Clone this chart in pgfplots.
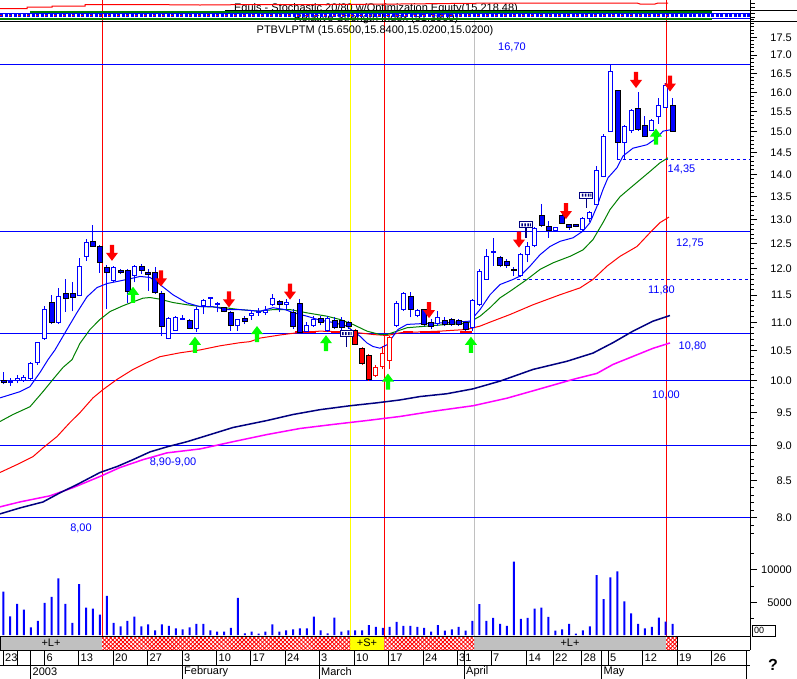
\documentclass[border=0pt]{standalone}
\usepackage{pgfplots}
\pgfplotsset{compat=1.18}
\usepackage{pgfplotstable}
\usepackage{fontspec}
\setmainfont{Liberation Sans}
\usetikzlibrary{patterns.meta}

\definecolor{cblue}{RGB}{0,0,255}
\definecolor{cgreen}{RGB}{0,128,0}
\definecolor{cred}{RGB}{255,0,0}
\definecolor{cnavy}{RGB}{0,0,128}
\definecolor{cmag}{RGB}{255,0,255}
\definecolor{clime}{RGB}{0,255,0}
\definecolor{cyel}{RGB}{255,255,0}
\definecolor{cgray}{RGB}{192,192,192}

% empty mark, candles are drawn in the scatter code
\pgfdeclareplotmark{void}{}
\pgfdeclareplotmark{dnarrow}{%
  \pgfpathmoveto{\pgfqpoint{-2.2pt}{8pt}}%
  \pgfpathlineto{\pgfqpoint{2.2pt}{8pt}}%
  \pgfpathlineto{\pgfqpoint{2.2pt}{0pt}}%
  \pgfpathlineto{\pgfqpoint{6pt}{0pt}}%
  \pgfpathlineto{\pgfqpoint{0pt}{-8pt}}%
  \pgfpathlineto{\pgfqpoint{-6pt}{0pt}}%
  \pgfpathlineto{\pgfqpoint{-2.2pt}{0pt}}%
  \pgfpathclose\pgfusepathqfill}
\pgfdeclareplotmark{uparrow}{%
  \pgfpathmoveto{\pgfqpoint{-2.2pt}{-8pt}}%
  \pgfpathlineto{\pgfqpoint{2.2pt}{-8pt}}%
  \pgfpathlineto{\pgfqpoint{2.2pt}{0pt}}%
  \pgfpathlineto{\pgfqpoint{6pt}{0pt}}%
  \pgfpathlineto{\pgfqpoint{0pt}{8pt}}%
  \pgfpathlineto{\pgfqpoint{-6pt}{0pt}}%
  \pgfpathlineto{\pgfqpoint{-2.2pt}{0pt}}%
  \pgfpathclose\pgfusepathqfill}
\pgfdeclareplotmark{exitflag}{%
  \pgfsetlinewidth{1.5pt}%
  \pgfpathmoveto{\pgfqpoint{0pt}{-3pt}}\pgfpathlineto{\pgfqpoint{0pt}{-13pt}}\pgfusepathqstroke
  \pgfsetlinewidth{1pt}\pgfsetfillcolor{white}%
  \pgfpathrectangle{\pgfqpoint{-6.5pt}{-3pt}}{\pgfqpoint{13pt}{6pt}}\pgfusepathqfillstroke
  \pgfsetfillcolor{cnavy}%
  \pgfpathrectangle{\pgfqpoint{-4.5pt}{-1.5pt}}{\pgfqpoint{1.5pt}{3pt}}%
  \pgfpathrectangle{\pgfqpoint{-1.5pt}{-1.5pt}}{\pgfqpoint{1.5pt}{3pt}}%
  \pgfpathrectangle{\pgfqpoint{1.5pt}{-1.5pt}}{\pgfqpoint{1.5pt}{3pt}}%
  \pgfpathrectangle{\pgfqpoint{4pt}{-1.5pt}}{\pgfqpoint{1pt}{3pt}}%
  \pgfusepathqfill}

% daily prices: open high low close, r=1 marks the red candles
\pgfplotstableread{
i o h l c r
0 10.00 10.15 9.95 9.98 0
1 9.98 10.05 9.92 9.99 0
2 10.00 10.10 9.96 10.03 0
3 10.01 10.10 9.98 10.06 0
4 10.03 10.31 10.01 10.28 0
5 10.30 10.65 10.27 10.64 0
6 10.71 11.30 10.69 11.24 0
7 11.35 11.50 10.97 11.00 0
8 10.99 11.63 10.98 11.48 0
9 11.52 11.80 11.19 11.45 0
10 11.52 11.75 11.20 11.46 0
11 11.50 12.22 11.48 12.04 0
12 12.25 12.60 12.16 12.53 0
13 12.54 12.90 12.44 12.46 0
14 12.45 12.48 11.93 12.14 0
15 12.03 12.07 11.24 11.93 0
16 11.77 12.06 11.74 12.03 0
17 11.96 12.00 11.90 11.93 0
18 11.96 12.00 11.35 11.58 0
19 11.88 12.07 11.74 12.04 0
20 12.05 12.09 11.90 11.98 0
21 11.92 12.00 11.58 11.90 0
22 11.93 12.03 11.52 11.55 0
23 11.52 11.58 10.75 10.94 0
24 10.72 11.10 10.70 11.07 0
25 10.85 11.12 10.85 11.08 0
26 11.05 11.13 11.04 11.06 0
27 11.03 11.06 10.88 10.89 0
28 10.89 11.28 10.83 11.24 0
29 11.30 11.43 11.15 11.40 0
30 11.44 11.46 11.30 11.45 0
31 11.33 11.37 11.18 11.35 0
32 11.26 11.28 11.18 11.20 0
33 11.18 11.20 10.85 10.95 0
34 10.95 11.06 10.85 11.05 0
35 11.06 11.12 10.97 11.02 0
36 11.12 11.20 11.05 11.15 0
37 11.18 11.26 11.12 11.20 0
38 11.17 11.30 11.14 11.21 0
39 11.32 11.52 11.30 11.43 0
40 11.37 11.41 11.19 11.33 0
41 11.33 11.42 11.25 11.37 0
42 11.18 11.24 10.88 10.94 0
43 11.33 11.43 10.83 10.83 0
44 10.84 11.00 10.83 10.94 0
45 10.94 11.11 10.92 11.05 0
46 11.07 11.12 10.95 11.00 0
47 10.85 11.12 10.83 11.07 0
48 11.03 11.10 10.88 10.91 0
49 11.03 11.10 10.86 10.91 0
50 11.00 11.03 10.88 10.94 0
51 10.85 10.88 10.62 10.62 1
52 10.53 10.56 10.27 10.30 1
53 10.42 10.45 10.00 10.03 1
54 10.08 10.26 10.06 10.22 1
55 10.24 10.59 10.19 10.45 1
56 10.33 10.76 10.19 10.73 1
57 10.94 11.38 10.91 11.35 0
58 11.24 11.55 11.21 11.52 0
59 11.46 11.55 11.09 11.24 0
60 11.12 11.24 11.09 11.21 0
61 11.22 11.25 10.94 10.97 0
62 11.00 11.06 10.88 10.94 0
63 10.97 11.21 10.94 11.09 0
64 11.03 11.10 10.94 10.97 0
65 11.04 11.08 10.94 10.97 0
66 11.03 11.06 10.94 10.97 0
67 11.00 11.03 10.85 10.88 0
68 10.90 11.42 10.85 11.39 0
69 11.32 12.00 11.30 11.95 0
70 11.80 12.40 11.80 12.24 0
71 12.33 12.62 12.06 12.35 0
72 12.23 12.26 12.03 12.07 0
73 12.14 12.20 12.03 12.07 0
74 11.99 12.03 11.87 11.98 0
75 11.87 12.32 11.84 12.29 0
76 12.29 12.53 12.13 12.45 0
77 12.46 12.85 12.43 12.82 0
78 13.09 13.33 12.85 12.88 0
79 12.85 12.98 12.63 12.78 0
80 12.78 12.85 12.76 12.83 0
81 13.09 13.12 12.91 12.93 0
82 12.89 12.91 12.79 12.84 0
83 12.89 12.90 12.84 12.86 0
84 12.79 13.05 12.77 13.03 0
85 13.03 13.18 12.95 13.15 0
86 13.33 14.18 13.31 14.08 0
87 13.95 14.95 13.93 14.90 0
88 15.02 16.74 15.02 16.55 0
89 16.04 16.07 14.35 14.76 0
90 14.74 15.18 14.35 15.13 0
91 15.03 15.57 14.98 15.54 0
92 15.57 16.00 15.02 15.06 0
93 15.15 15.40 14.88 14.90 0
94 15.03 15.32 15.02 15.29 0
95 15.38 15.85 15.20 15.66 0
96 15.62 16.25 15.60 16.18 0
97 15.65 15.84 15.02 15.02 0
}\candles

\pgfplotstableread{
i v
0 6666
1 2879
2 4798
3 3889
4 1162
5 2172
6 4949
7 5858
8 8686
9 4798
10 1869
11 7828
12 4192
13 4040
14 3131
15 6010
16 1869
17 1313
18 2172
19 2828
20 1313
21 1616
22 707
23 1616
24 1414
25 1010
26 859
27 1162
28 1717
29 1717
30 707
31 505
32 505
33 1111
34 5707
35 253
36 505
37 202
38 505
39 1616
40 505
41 707
42 859
43 1010
44 1010
45 2828
46 707
47 253
48 2677
49 505
50 707
51 707
52 707
53 1515
54 1262
55 1111
56 1262
57 2020
58 1414
59 1414
60 1262
61 1111
62 505
63 1515
64 657
65 859
66 1262
67 657
68 2172
69 4747
70 2172
71 2626
72 1717
73 1414
74 11262
75 2475
76 2626
77 4040
78 4192
79 2778
80 657
81 859
82 1717
83 200
84 707
85 1313
86 9191
87 5505
88 8838
89 9797
90 5151
91 3333
92 1717
93 1010
94 1262
95 2677
96 2070
97 1717
}\volume

\begin{document}
\begin{tikzpicture}[font=\fontsize{11}{13}\selectfont]
\useasboundingbox (0pt,0pt) rectangle (797pt,-679pt);
\fill[white] (0pt,0pt) rectangle (797pt,-679pt);

% frame in pixel units: indicator strip, separators, date rows
\begin{axis}[at={(0pt,0pt)}, anchor=north west, width=797pt, height=679pt,
  scale only axis, hide axis, clip=false,
  xmin=0, xmax=797, ymin=0, ymax=679, y dir=reverse]
\addplot[cred, line width=1pt] coordinates {(102,0) (102,636)};
\addplot[cyel, line width=1pt] coordinates {(350,0) (350,636)};
\addplot[cred, line width=1pt] coordinates {(384,0) (384,636)};
\addplot[cgray, line width=1pt] coordinates {(474,20) (474,636)};
\addplot[cred, line width=1pt] coordinates {(666,0) (666,636)};

\node[inner sep=0pt] at (axis cs:376,9) {Equis - Stochastic 20/80  w/Optimization Equity(15,218.48)};
\node[inner sep=0pt] at (axis cs:376,19) {Relative Strength Index (51.3900)};
\node[inner sep=0pt] at (axis cs:375,31) {PTBVLPTM (15.6500,15.8400,15.0200,15.0200)};

\addplot[cred, line width=1pt] coordinates {(0,8.5)(27,8.5)(27,7)(52,7)(52,6)(85,6)(85,4.5)(140,4.5)(200,5)(260,4.5)(330,4.5)(400,4)(450,3.5)(500,3)(637,3)(640,4)(655,4)(658,3)(668,3)};
\addplot[black, line width=1pt] coordinates {(225,10) (797,10)};
\addplot[black, line width=1pt] coordinates {(0,21) (797,21)};
\addplot[cgreen, line width=2pt] coordinates {(30,11.7) (712,11.7)};
\addplot[cgreen, line width=2pt] coordinates {(0,19) (712,19)};
\addplot[cblue, line width=1pt] coordinates {(0,13.3) (750,13.3)};
\addplot[cblue, line width=1pt] coordinates {(712,18.5) (750,18.5)};
\addplot[cblue, line width=3pt, dash pattern=on 3pt off 1.5pt] coordinates {(0,15.7) (750,15.7)};
\addplot[cred, line width=0.8pt, dash pattern=on 2pt off 7pt] coordinates {(0,15.7) (670,15.7)};

\draw[black, line width=1pt] (axis cs:750,0) -- (axis cs:750,650);
\pgfplotsinvokeforeach{3,7,13,17}{\draw[black] (axis cs:750,#1) -- (axis cs:755,#1);}

% signal strip
\fill[cgray] (axis cs:0,636) rectangle (axis cs:102,650);
\fill[cyel] (axis cs:350,636) rectangle (axis cs:384,650);
\fill[cgray] (axis cs:474,636) rectangle (axis cs:666,650);
\fill[pattern={Lines[angle=45,distance=2.9pt,line width=0.8pt]}, pattern color=cred] (axis cs:102,636) rectangle (axis cs:350,650);
\fill[pattern={Lines[angle=-45,distance=2.9pt,line width=0.8pt]}, pattern color=cred] (axis cs:102,636) rectangle (axis cs:350,650);
\fill[pattern={Lines[angle=45,distance=2.9pt,line width=0.8pt]}, pattern color=cred] (axis cs:384,636) rectangle (axis cs:474,650);
\fill[pattern={Lines[angle=-45,distance=2.9pt,line width=0.8pt]}, pattern color=cred] (axis cs:384,636) rectangle (axis cs:474,650);
\fill[pattern={Lines[angle=45,distance=2.9pt,line width=0.8pt]}, pattern color=cred] (axis cs:666,636) rectangle (axis cs:677,650);
\fill[pattern={Lines[angle=-45,distance=2.9pt,line width=0.8pt]}, pattern color=cred] (axis cs:666,636) rectangle (axis cs:677,650);
\node at (axis cs:51,643) {+L+};
\node at (axis cs:367,643) {+S+};
\node at (axis cs:570,643) {+L+};
\draw[black, line width=1pt] (axis cs:0,636) -- (axis cs:750,636);
\draw[black, line width=1pt] (axis cs:0,650) -- (axis cs:750,650);
\draw[black, line width=1pt] (axis cs:677,636) -- (axis cs:677,650);
\draw[black, line width=1pt] (axis cs:0,636) -- (axis cs:0,650);

% date rows
\draw[black, line width=1pt] (axis cs:0,665) -- (axis cs:750,665);
\pgfplotsinvokeforeach{3.3,17.3,44.7,78.7,113.3,147.7,216.7,250.7,285.3,354,388,423.3,457.3,491,526.7,553.3,581.7,608.3,642.7,677.3,711.7,746.7}{%
  \draw[black, line width=1pt] (axis cs:#1,650) -- (axis cs:#1,665);}
\pgfplotsinvokeforeach{30.7,182.3,319.3,464.3,601.7,746.7}{%
  \draw[black, line width=1pt] (axis cs:#1,650) -- (axis cs:#1,679);}
\begin{scope}[every node/.style={anchor=west, inner sep=0pt}]
\node at (axis cs:5,658) {23};
\node at (axis cs:46.5,658) {6};
\node at (axis cs:80.5,658) {13};
\node at (axis cs:115,658) {20};
\node at (axis cs:149.5,658) {27};
\node at (axis cs:184,658) {3};
\node at (axis cs:218.5,658) {10};
\node at (axis cs:252.5,658) {17};
\node at (axis cs:287,658) {24};
\node at (axis cs:321,658) {3};
\node at (axis cs:356,658) {10};
\node at (axis cs:390,658) {17};
\node at (axis cs:425,658) {24};
\node at (axis cs:459,658) {31};
\node at (axis cs:493,658) {7};
\node at (axis cs:528.5,658) {14};
\node at (axis cs:555,658) {22};
\node at (axis cs:583.5,658) {28};
\node at (axis cs:610,658) {5};
\node at (axis cs:644.5,658) {12};
\node at (axis cs:679,658) {19};
\node at (axis cs:713.5,658) {26};
\node at (axis cs:32.5,672) {2003};
\node at (axis cs:184,672) {February};
\node at (axis cs:321,672) {March};
\node at (axis cs:466,672) {April};
\node at (axis cs:603.5,672) {May};
\end{scope}
\draw[black, line width=1pt] (axis cs:752,625) rectangle (axis cs:775,636);
\node[font=\fontsize{9}{10}\selectfont, anchor=west, inner sep=0pt] at (axis cs:754,630.5) {00};
\node[font=\bfseries\fontsize{16}{18}\selectfont] at (axis cs:773,665) {?};

% level labels
\begin{scope}[every node/.style={text=cblue, inner sep=0pt}]
\node at (axis cs:512,47) {16,70};
\node at (axis cs:681.5,169) {14,35};
\node at (axis cs:690,243.5) {12,75};
\node at (axis cs:661.5,290) {11,80};
\node at (axis cs:692.5,346.5) {10,80};
\node at (axis cs:666,395) {10,00};
\node at (axis cs:173,462.5) {8,90-9,00};
\node at (axis cs:81,528) {8,00};
\end{scope}
\end{axis}

% price panel
\begin{axis}[at={(0pt,-20pt)}, anchor=north west, width=750pt, height=520pt,
  scale only axis, xmin=-0.478, xmax=108.22,
  ymode=log, ymin=7.7173, ymax=18,
  axis x line=none, axis y line*=right,
  axis line style={black, line width=1pt},
  ytick={8,8.5,9,9.5,10,10.5,11,11.5,12,12.5,13,13.5,14,14.5,15,15.5,16,16.5,17,17.5},
  yticklabels={8.0,8.5,9.0,9.5,10.0,10.5,11.0,11.5,12.0,12.5,13.0,13.5,14.0,14.5,15.0,15.5,16.0,16.5,17.0,17.5},
  minor ytick={7.8,7.9,...,18.01},
  yticklabel style={anchor=east, xshift=35pt, inner sep=0pt, font=\fontsize{11}{13}\selectfont},
  tick align=outside, major tick length=7pt, minor tick length=3.5pt,
  every tick/.style={black, line width=1pt}]

% support and resistance levels
\addplot[cblue, line width=1pt] coordinates {(-0.478,16.74) (50,16.74) (108.22,16.74)};
\addplot[cblue, line width=1pt] coordinates {(-0.478,12.75) (50,12.75) (108.22,12.75)};
\addplot[cblue, line width=1pt] coordinates {(-0.478,10.80) (50,10.80) (108.22,10.80)};
\addplot[cblue, line width=1pt] coordinates {(-0.478,10.00) (50,10.00) (108.22,10.00)};
\addplot[cblue, line width=1pt] coordinates {(-0.478,9.00) (50,9.00) (108.22,9.00)};
\addplot[cblue, line width=1pt] coordinates {(-0.478,8.00) (50,8.00) (108.22,8.00)};
\addplot[cblue, line width=1pt, dash pattern=on 3pt off 3pt] coordinates {(88.94,14.35) (98,14.35) (108.22,14.35)};
\addplot[cblue, line width=1pt, dash pattern=on 3pt off 3pt] coordinates {(74.45,11.80) (90,11.80) (108.22,11.80)};

\addplot[cred, line width=2.5pt] coordinates {(42.3,10.83) (45.3,10.83)};
\addplot[cred, line width=2.5pt] coordinates {(47.5,10.83) (50.7,10.83)};
\addplot[cred, line width=2.5pt] coordinates {(57.9,10.83) (59.4,10.83)};
\addplot[cred, line width=2.5pt] coordinates {(60.4,10.83) (63.3,10.83)};
\addplot[cred, line width=2.5pt] coordinates {(66.2,10.83) (68.0,10.83)};

% moving averages
\addplot[cmag, line width=1.5pt] coordinates {(-0.48,8.144)(2.42,8.210)(6.77,8.292)(10.10,8.403)(14.01,8.557)(16.91,8.683)(20.25,8.795)(23.72,8.893)(28.51,8.950)(33.29,9.056)(38.22,9.162)(43.00,9.253)(47.78,9.314)(52.71,9.374)(57.49,9.436)(62.28,9.516)(68.07,9.602)(73.00,9.721)(77.78,9.870)(82.57,10.023)(86.04,10.122)(88.36,10.270)(91.26,10.406)(94.16,10.544)(96.62,10.636)};
\addplot[cnavy, line width=1.5pt] coordinates {(-0.48,8.051)(2.42,8.130)(5.75,8.209)(8.22,8.333)(10.68,8.445)(14.01,8.613)(16.48,8.697)(18.80,8.795)(21.26,8.907)(23.72,8.980)(26.62,9.056)(29.52,9.147)(33.29,9.268)(38.22,9.374)(41.99,9.466)(45.90,9.541)(50.25,9.602)(54.16,9.648)(57.49,9.693)(60.39,9.747)(64.30,9.792)(68.07,9.870)(71.99,9.995)(76.77,10.187)(81.70,10.324)(85.46,10.462)(88.36,10.641)(91.26,10.843)(94.16,11.021)(96.62,11.123)};
\addplot[cred, line width=1pt] coordinates {(-0.48,8.613)(1.99,8.725)(4.30,8.838)(5.75,8.965)(7.78,9.132)(9.67,9.344)(11.12,9.496)(13.00,9.726)(14.45,9.858)(16.48,10.023)(18.80,10.187)(20.83,10.302)(22.71,10.401)(25.61,10.467)(28.51,10.516)(31.41,10.587)(34.30,10.641)(35.75,10.659)(37.20,10.721)(40.10,10.775)(42.57,10.814)(45.90,10.843)(50.68,10.825)(53.58,10.784)(55.61,10.766)(57.49,10.814)(60.39,10.829)(63.29,10.843)(67.20,10.873)(69.09,10.932)(70.54,11.003)(73.43,11.140)(76.77,11.319)(80.68,11.505)(83.58,11.634)(85.46,11.795)(87.49,12.053)(89.38,12.248)(91.84,12.446)(93.72,12.728)(95.17,12.939)(96.48,13.057)};
\addplot[cgreen, line width=1pt] coordinates {(-0.48,9.359)(1.41,9.466)(3.87,9.587)(5.75,9.825)(7.20,10.023)(8.65,10.220)(9.96,10.351)(11.12,10.631)(12.57,10.873)(14.01,11.051)(15.46,11.194)(17.35,11.301)(18.80,11.372)(20.25,11.441)(21.26,11.453)(22.71,11.422)(24.59,11.360)(26.62,11.319)(28.51,11.288)(30.39,11.278)(32.42,11.260)(34.30,11.230)(37.20,11.200)(39.09,11.230)(41.55,11.230)(44.01,11.171)(46.91,11.110)(48.80,11.051)(50.68,10.962)(52.71,10.843)(54.59,10.784)(55.61,10.784)(57.06,10.843)(58.51,10.903)(61.41,10.932)(64.30,10.962)(67.20,10.980)(69.09,11.110)(70.54,11.265)(71.99,11.447)(73.43,11.569)(75.90,11.795)(77.78,11.989)(79.67,12.119)(82.13,12.248)(84.01,12.376)(85.46,12.586)(86.91,12.939)(87.93,13.217)(89.38,13.497)(90.83,13.686)(92.28,13.875)(93.72,14.064)(95.17,14.263)(96.33,14.380)};
\addplot[cblue, line width=1pt] coordinates {(-0.48,9.726)(2.42,9.825)(3.87,9.907)(5.32,10.137)(6.48,10.351)(7.49,10.516)(9.23,10.873)(10.68,11.176)(12.13,11.466)(13.58,11.640)(15.03,11.717)(16.48,11.756)(17.93,11.795)(19.81,11.853)(21.26,11.834)(22.71,11.698)(24.59,11.505)(26.62,11.354)(28.51,11.283)(30.39,11.283)(32.42,11.230)(34.30,11.230)(37.20,11.200)(39.09,11.265)(40.83,11.230)(41.99,11.176)(44.01,11.110)(45.90,11.039)(47.78,10.998)(49.81,10.932)(50.68,10.843)(51.70,10.754)(52.71,10.636)(53.58,10.575)(54.59,10.546)(55.61,10.605)(56.33,10.725)(57.20,10.873)(58.51,10.962)(60.39,10.975)(64.30,10.993)(67.64,11.021)(69.09,11.230)(70.54,11.505)(71.99,11.698)(73.87,11.795)(74.88,11.859)(76.33,12.053)(77.78,12.279)(79.23,12.446)(80.68,12.551)(82.57,12.623)(84.01,12.762)(85.03,12.939)(86.04,13.286)(86.91,13.655)(87.64,13.921)(88.94,14.149)(89.81,14.422)(91.26,14.608)(93.29,14.690)(94.74,14.855)(95.61,15.019)(97.06,15.061)};

% candlesticks: 614pt per unit of ln(price)
\addplot[scatter, only marks, mark=void,
  visualization depends on={\thisrow{o} \as \vo},
  visualization depends on={\thisrow{h} \as \vh},
  visualization depends on={\thisrow{l} \as \vl},
  visualization depends on={\thisrow{c} \as \vc},
  visualization depends on={\thisrow{r} \as \vr},
  scatter/@pre marker code/.code={%
    \pgfkeys{/pgf/fpu=false}%
    \pgfmathsetmacro\cyh{614*ln(\vh/\vo)}%
    \pgfmathsetmacro\cyl{614*ln(\vl/\vo)}%
    \pgfmathsetmacro\cyc{614*ln(\vc/\vo)}%
    \ifdim\vr pt>0.5pt \def\ccol{cred}\else\def\ccol{cblue}\fi
    \draw[draw=\ccol, line width=1pt] (0pt,\cyl pt) -- (0pt,\cyh pt);
    \ifdim\cyc pt>0pt
      \filldraw[fill=white, draw=\ccol, line width=1pt] (-2pt,0pt) rectangle (2pt,\cyc pt);
    \else
      \fill[fill=\ccol] (-2.5pt,0.5pt) rectangle (2.5pt,\cyc pt);
    \fi
  },
  scatter/@post marker code/.code={}]
  table[x=i, y=o, meta=o] {\candles};

% signals
\addplot[only marks, mark=dnarrow, mark options={fill=cred, draw=none}] coordinates {(15.75,12.318)(22.85,11.815)(32.71,11.418)(41.55,11.563)(61.70,11.221)(74.74,12.586)(81.55,13.185)(91.70,16.324)(96.62,16.230)};
\addplot[only marks, mark=uparrow, mark options={fill=clime, draw=none}] coordinates {(18.80,11.505)(27.78,10.605)(36.77,10.792)(46.77,10.632)(55.75,9.989)(67.78,10.605)(94.59,14.887)};
\addplot[only marks, mark=exitflag, mark options={draw=cnavy, fill=cnavy}] coordinates {(49.74,10.801)(75.75,12.891)(84.52,13.530)};
\end{axis}

% volume panel
\begin{axis}[at={(0pt,-540pt)}, anchor=north west, width=750pt, height=95pt,
  scale only axis, xmin=-0.478, xmax=108.22, ymin=0, ymax=14600,
  axis x line=none, axis y line*=right,
  axis line style={black, line width=1pt},
  ytick={5000,10000}, yticklabels={5000,10000}, minor ytick={2500,7500,12500},
  scaled y ticks=false,
  yticklabel style={anchor=east, xshift=35pt, inner sep=0pt, font=\fontsize{11}{13}\selectfont},
  tick align=outside, major tick length=7pt, minor tick length=3.5pt,
  every tick/.style={black, line width=1pt},
  ybar, bar width=2pt]
\addplot[fill=cblue, draw=none] table[x=i, y=v] {\volume};
\end{axis}
\end{tikzpicture}
\end{document}
